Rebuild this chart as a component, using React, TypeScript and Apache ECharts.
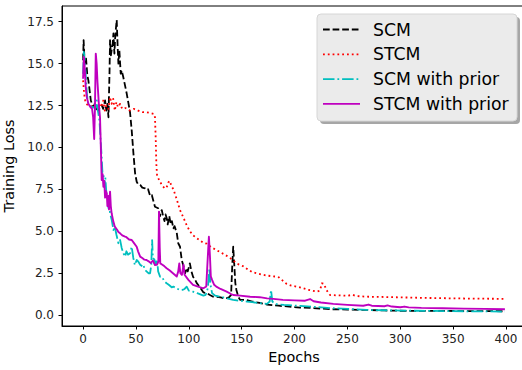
import React, { useEffect, useRef } from "react";
import * as echarts from "echarts";

const xTicks = [0, 50, 100, 150, 200, 250, 300, 350, 400];
const yTicks = [0, 2.5, 5, 7.5, 10, 12.5, 15, 17.5];
const seriesNames = ["SCM", "STCM", "SCM with prior", "STCM with prior"];
const xTitle = "Epochs";
const yTitle = "Training Loss";

const scm: [number, number][] = [
  [0, 15.2], [0.5, 16.4], [1.5, 15.0], [2.8, 15.3], [4, 14.3], [5, 14.0], [6, 13.5], [7.3, 12.8],
  [8.5, 12.6], [9.8, 12.4], [11, 12.6], [12.5, 12.3], [14.5, 12.2], [16, 12.4], [17.7, 12.5],
  [19, 12.3], [20.8, 12.8], [22, 12.2], [23, 12.6], [24, 11.8], [25, 14.5], [25.5, 16.4],
  [26.3, 15.5], [27, 15.8], [28, 16.2], [28.7, 16.8], [29.6, 15.6], [30.3, 16.5], [30.9, 17.0],
  [31.8, 17.6], [32.7, 16.0], [33.4, 15.0], [34.3, 15.8], [35.6, 14.4], [36.5, 14.6], [38, 14.2],
  [40, 13.6], [41.3, 13.2], [43, 12.6], [44.4, 12.1], [46, 11.0], [47.6, 9.65], [49.2, 8.45],
  [50.7, 7.95], [52, 7.8], [54, 7.76], [56, 7.6], [58.6, 7.56], [60, 7.46], [61.5, 7.5],
  [63.4, 7.1], [65, 7.16], [66.5, 6.8], [68, 6.46], [70, 6.4], [71, 6.37], [72.8, 5.9],
  [74.4, 6.26], [75.8, 5.87], [77, 5.6], [78, 6.0], [79, 5.8], [80, 5.4], [81.5, 5.9], [83, 5.4],
  [84, 5.6], [85.4, 5.17], [86.5, 5.3], [88.6, 4.9], [90, 4.28], [91.7, 4.07], [93.3, 3.28],
  [94.6, 3.0], [96.5, 2.49], [98, 2.8], [99, 2.6], [101, 3.08], [102.5, 2.6], [104, 2.28],
  [106, 2.1], [107.5, 1.9], [110, 1.7], [113.7, 1.35], [117, 1.3], [120, 1.19], [123, 1.09],
  [126, 1.09], [130, 1.05], [133, 1.0], [136, 1.0], [138, 1.05], [140, 1.2], [141, 2.8],
  [142, 4.07], [143, 3.0], [144, 1.9], [145, 1.49], [146.8, 1.09], [148.5, 0.9], [152, 0.9],
  [155, 0.88], [160, 0.8], [167, 0.72], [174, 0.62], [185, 0.55], [195, 0.5], [205, 0.44],
  [215, 0.42], [225, 0.38], [236, 0.34], [250, 0.32], [268, 0.3], [285, 0.27], [300, 0.25],
  [320, 0.24], [340, 0.24], [360, 0.23], [380, 0.23], [399, 0.22],
];

const stcm: [number, number][] = [
  [0, 14.0], [1, 13.2], [2, 12.8], [3, 12.6], [5, 12.5], [8, 12.45], [11, 12.5], [13, 12.3],
  [15, 12.6], [17, 12.4], [19, 12.8], [20.5, 12.2], [22, 12.5], [24, 12.3], [25.5, 13.0],
  [27, 12.6], [28.5, 12.9], [30, 12.2], [31.5, 12.7], [33, 12.4], [35, 12.6], [37, 12.3],
  [40, 12.35], [44, 12.2], [48, 12.3], [52, 12.2], [56, 12.1], [60, 12.1], [64, 12.05],
  [67, 12.0], [68, 11.8], [68.7, 10.5], [69.3, 9.0], [70, 8.3], [72.8, 7.95], [75, 7.7],
  [77.5, 7.55], [79, 7.6], [80.5, 7.9], [82, 8.0], [83.5, 7.7], [85.4, 7.5], [88.6, 6.9],
  [91.7, 6.25], [95, 5.8], [98, 5.35], [101, 5.0], [104, 4.75], [110, 4.47], [114, 4.3],
  [117, 4.25], [121, 4.05], [126, 3.88], [129.6, 3.75], [134, 3.6], [139, 3.4], [142, 3.25],
  [146, 3.05], [151.6, 2.9], [155, 2.75], [160, 2.55], [164, 2.49], [170, 2.4], [174, 2.35],
  [180, 2.3], [183, 2.29], [185, 2.25], [188, 2.09], [192.6, 1.85], [197, 1.75], [205, 1.65],
  [213, 1.5], [221, 1.39], [224, 1.45], [226, 1.89], [228, 1.85], [230, 1.5], [233.6, 1.19],
  [240, 1.17], [250, 1.15], [255, 1.2], [258, 1.13], [268, 1.09], [285, 1.07], [300, 1.05],
  [320, 1.02], [340, 1.0], [360, 0.98], [380, 0.97], [399, 0.96],
];

const scmPrior: [number, number][] = [
  [0, 14.4], [0.7, 15.7], [1.5, 15.3], [2.5, 14.3], [3.5, 13.3], [4.5, 12.7], [6, 12.5], [8, 12.4],
  [10, 12.4], [11.5, 12.3], [13, 12.8], [14, 12.2], [15.5, 11.6], [16.5, 10.5], [17.5, 9.5],
  [18.3, 8.5], [19.2, 8.45], [20, 7.7], [21, 8.2], [22, 7.3], [23, 7.0], [24, 6.37], [25, 6.5],
  [25.5, 6.07], [27, 5.7], [28.7, 5.07], [30, 5.27], [31.5, 4.8], [33.4, 4.28], [35, 4.47],
  [36.5, 4.0], [38, 3.7], [39.7, 3.48], [41, 3.8], [42.5, 3.6], [44.4, 3.68], [46, 4.07],
  [47.5, 3.4], [49, 2.98], [50.7, 3.28], [52, 3.2], [54, 3.0], [56, 2.9], [57, 2.98], [58.6, 2.68],
  [60, 2.6], [61.8, 2.49], [63.4, 2.49], [64.5, 3.0], [65.3, 4.47], [66, 3.4], [67.5, 3.3],
  [69, 3.0], [70, 3.3], [71, 2.6], [72.8, 2.29], [74.4, 2.29], [77, 2.0], [79, 1.89], [81, 1.8],
  [83.8, 1.65], [85.4, 1.69], [88, 1.6], [91.7, 1.49], [94, 1.5], [96, 1.55], [98, 1.69],
  [100, 1.45], [104, 1.39], [108, 1.3], [113.8, 1.15], [116, 1.2], [118, 1.6], [119.5, 2.75],
  [120.5, 1.8], [122, 1.3], [125, 1.15], [129.6, 1.09], [135.8, 1.0], [142, 0.9], [148, 0.85],
  [155, 0.8], [160, 0.76], [167, 0.7], [174, 0.66], [176.5, 0.8], [177.8, 1.49], [179, 0.8],
  [182, 0.65], [190, 0.6], [205, 0.54], [220, 0.48], [236, 0.4], [250, 0.36], [268, 0.3],
  [285, 0.28], [300, 0.26], [330, 0.24], [360, 0.22], [399, 0.2],
];

const stcmPrior: [number, number][] = [
  [0, 14.1], [0.7, 15.4], [1.5, 14.8], [2.5, 13.6], [3.5, 13.0], [5, 12.6], [7, 12.4], [8.5, 12.3],
  [9.5, 11.8], [10.5, 10.5], [11.2, 12.3], [12, 15.6], [12.8, 15.0], [13.6, 13.9], [15, 12.5],
  [16, 11.8], [16.8, 10.0], [17.6, 8.05], [18.5, 8.4], [19.2, 7.65], [20, 8.0], [20.8, 7.0],
  [21.5, 7.4], [22.4, 7.26], [23, 6.5], [24, 7.1], [24.5, 6.3], [25.5, 7.36], [26.2, 6.5],
  [27, 6.07], [28.5, 5.6], [30, 5.27], [32, 5.1], [33.4, 4.95], [35, 4.87], [37, 4.75],
  [39.7, 4.67], [41, 4.64], [43.5, 4.5], [46, 4.47], [48, 4.3], [50.7, 4.07], [52, 3.8],
  [54, 3.48], [56, 3.4], [58, 3.3], [60, 3.28], [62, 3.2], [64, 3.1], [66, 3.25], [68, 2.98],
  [70, 3.0], [71.2, 3.2], [71.8, 6.16], [72.5, 4.0], [73, 3.08], [75, 3.0], [77, 2.9],
  [79, 2.79], [82, 2.65], [85, 2.49], [88.6, 2.29], [90, 2.6], [91, 3.08], [92, 2.5],
  [93.5, 2.39], [95, 3.0], [96, 2.4], [99.6, 2.09], [104, 1.79], [108, 1.7], [113.8, 1.59],
  [116.5, 1.7], [118, 3.5], [119, 4.67], [120, 3.5], [120.8, 2.3], [122, 2.09], [124, 1.8],
  [126, 1.69], [130, 1.55], [135.8, 1.39], [140, 1.25], [142, 1.19], [148.5, 1.15], [158, 1.09],
  [167, 1.06], [174, 0.99], [180, 0.96], [189, 0.9], [200, 0.87], [210, 0.85], [214.7, 0.95],
  [218, 0.82], [225, 0.74], [236.7, 0.66], [250, 0.6], [265, 0.55], [270, 0.62], [273, 0.55],
  [285, 0.52], [288, 0.57], [292, 0.5], [300, 0.46], [304, 0.5], [308, 0.45], [320, 0.42],
  [340, 0.4], [360, 0.38], [380, 0.36], [399, 0.34],
];

const seriesData = [scm, stcm, scmPrior, stcmPrior];
const colors = ["#000000", "#ff0000", "#00bfbf", "#bf00bf"];
const dashes: (number[] | "solid")[] = [[6.7, 2.9], [1.8, 3.0], [11.5, 2.9, 1.8, 2.9], "solid"];
const widths = [1.8, 1.8, 1.8, 1.9];

const FONT = "DejaVu Sans";

export default function App() {
  const ref = useRef<HTMLDivElement>(null);
  useEffect(() => {
    if (!ref.current) return;
    const chart = echarts.init(ref.current, null, { renderer: "svg" });

    const legendX = 317;
    const legendY = 14;
    const legendW = 200;
    const legendH = 107;
    const rowYs = [29.5, 54.3, 79.1, 103.9];

    const legendChildren: any[] = [
      {
        type: "rect",
        shape: { x: legendX + 3, y: legendY + 3, width: legendW, height: legendH, r: 4 },
        style: { fill: "#a6a6a6" },
        z: 100,
      },
      {
        type: "rect",
        shape: { x: legendX, y: legendY, width: legendW, height: legendH, r: 4 },
        style: { fill: "#ebebeb", stroke: "#d6d6d6", lineWidth: 1 },
        z: 101,
      },
    ];
    seriesNames.forEach((name, i) => {
      legendChildren.push({
        type: "line",
        shape: { x1: 323, y1: rowYs[i], x2: 360, y2: rowYs[i] },
        style: {
          stroke: colors[i],
          lineWidth: widths[i],
          lineDash: dashes[i] === "solid" ? null : (dashes[i] as number[]),
        },
        z: 102,
      });
      legendChildren.push({
        type: "text",
        x: 373,
        y: rowYs[i],
        style: {
          text: name,
          font: `17.3px "${FONT}"`,
          fill: "#000",
          align: "left",
          verticalAlign: "middle",
        },
        z: 102,
      });
    });

    chart.setOption({
      animation: false,
      backgroundColor: "#ffffff",
      grid: {
        left: 62,
        right: 0,
        top: 6,
        bottom: 44,
        show: true,
        borderColor: "#000",
        borderWidth: 1,
        containLabel: false,
        outerBoundsMode: "none",
      },
      xAxis: {
        type: "value",
        min: -19.95,
        max: 418.95,
        name: xTitle,
        nameLocation: "middle",
        nameGap: 22,
        nameTextStyle: { fontFamily: FONT, fontSize: 14.4, color: "#000" },
        axisLine: { show: true, onZero: false, lineStyle: { color: "#000", width: 1 } },
        axisTick: { show: true, length: 3.5, customValues: xTicks, lineStyle: { color: "#000" } },
        axisLabel: {
          customValues: xTicks,
          fontFamily: FONT,
          fontSize: 12,
          color: "#222",
          margin: 7,
          formatter: (v: number) => String(Math.round(v)),
        },
        splitLine: { show: false },
      },
      yAxis: {
        type: "value",
        min: -0.66,
        max: 18.44,
        name: yTitle,
        nameLocation: "middle",
        nameGap: 41,
        nameRotate: 90,
        nameTextStyle: { fontFamily: FONT, fontSize: 14.4, color: "#000" },
        axisLine: { show: true, onZero: false, lineStyle: { color: "#000", width: 1 } },
        axisTick: { show: true, length: 3.5, customValues: yTicks, lineStyle: { color: "#000" } },
        axisLabel: {
          customValues: yTicks,
          fontFamily: FONT,
          fontSize: 12,
          color: "#222",
          margin: 8,
          formatter: (v: number) => v.toFixed(1),
        },
        splitLine: { show: false },
      },
      series: seriesNames.map((name, i) => ({
        name,
        type: "line",
        data: seriesData[i],
        showSymbol: false,
        symbol: "none",
        smooth: false,
        clip: true,
        z: 2 + i,
        lineStyle: {
          color: colors[i],
          width: widths[i],
          type: dashes[i],
          cap: "butt",
          join: "round",
        },
      })),
      graphic: [
        {
          type: "group",
          z: 100,
          children: legendChildren,
        },
      ],
    });
    return () => chart.dispose();
  }, []);
  return (
    <div
      style={{
        position: "fixed",
        left: 0,
        top: 0,
        width: 522,
        height: 370,
        overflow: "hidden",
        background: "#fff",
      }}
    >
      <div ref={ref} style={{ width: 526, height: 370 }} />
    </div>
  );
}
